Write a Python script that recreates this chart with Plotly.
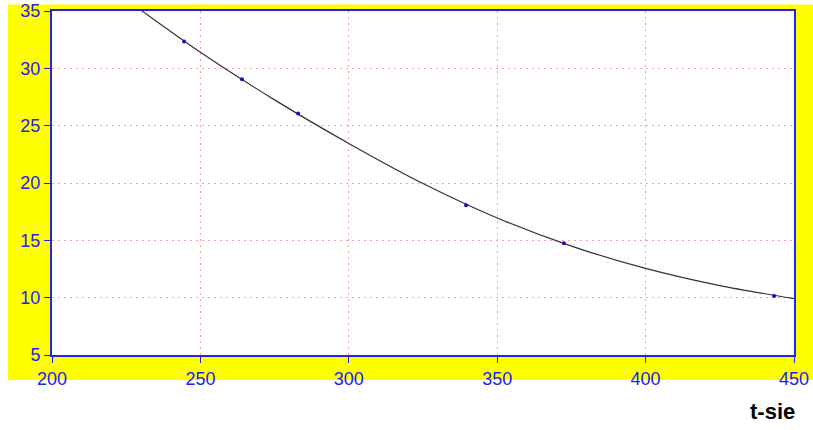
import plotly.graph_objects as go

# measured points
t_points = [244.5, 264.0, 282.9, 339.5, 372.5, 443.3]
v_points = [32.34, 29.04, 26.07, 18.06, 14.75, 10.15]

# fitted curve samples
t_curve = [225, 250, 275, 300, 325, 350, 375, 400, 425, 450]
v_curve = [36.0, 31.4, 27.25, 23.45, 19.95, 16.95, 14.5, 12.55, 11.05, 9.92]

x_ticks = [200, 250, 300, 350, 400, 450]
y_ticks = [5, 10, 15, 20, 25, 30, 35]

BLUE = "#2222ee"
GRID = "#ffa0a0"
FONT = "Liberation Sans, Arial, sans-serif"

fig = go.Figure()
fig.add_trace(go.Scatter(
    x=t_curve, y=v_curve, mode="lines",
    line=dict(color="#333333", width=1.2, shape="spline", smoothing=0.8),
    hoverinfo="skip", showlegend=False,
))
fig.add_trace(go.Scatter(
    x=t_points, y=v_points, mode="markers",
    marker=dict(color="#1010cc", size=4),
    showlegend=False,
))

W, H = 813, 430
L, R, T, B = 52, 19, 10.5, 75
pw, ph = W - L - R, H - T - B

def px_x(p):
    return (p - L) / pw

def px_y(p):
    return (H - B - p) / ph

# yellow frame behind the plot, white plotting area on top of it
fig.add_shape(type="rect", xref="paper", yref="paper",
              x0=px_x(8), x1=px_x(813), y0=px_y(380), y1=px_y(4),
              fillcolor="#ffff00", line=dict(width=0), layer="below")
fig.add_shape(type="rect", xref="paper", yref="paper",
              x0=0, x1=1, y0=0, y1=1,
              fillcolor="#ffffff", line=dict(width=0), layer="below")

axis_common = dict(
    showline=True, linecolor=BLUE, linewidth=2, mirror=True,
    ticks="outside", ticklen=6, tickwidth=1, tickcolor=BLUE,
    showgrid=True, gridcolor=GRID, griddash="2px,4px", gridwidth=1,
    zeroline=False, automargin=False,
    tickfont=dict(family=FONT, size=18, color=BLUE),
)

fig.update_xaxes(range=[200, 450], tickvals=x_ticks,
                 ticktext=[str(v) for v in x_ticks], **axis_common)
fig.update_yaxes(range=[5, 35], tickvals=y_ticks,
                 ticktext=[str(v) for v in y_ticks], **axis_common)

fig.add_annotation(text="<b>t-sie</b>", xref="paper", yref="paper",
                   x=px_x(772), y=px_y(412), xanchor="center", yanchor="middle",
                   showarrow=False,
                   font=dict(family=FONT, size=22, color="#000000"))

fig.update_layout(
    width=W, height=H,
    margin=dict(l=L, r=R, t=T, b=B, autoexpand=False),
    paper_bgcolor="#ffffff", plot_bgcolor="rgba(0,0,0,0)",
    showlegend=False,
)

fig.write_html("out.html")
